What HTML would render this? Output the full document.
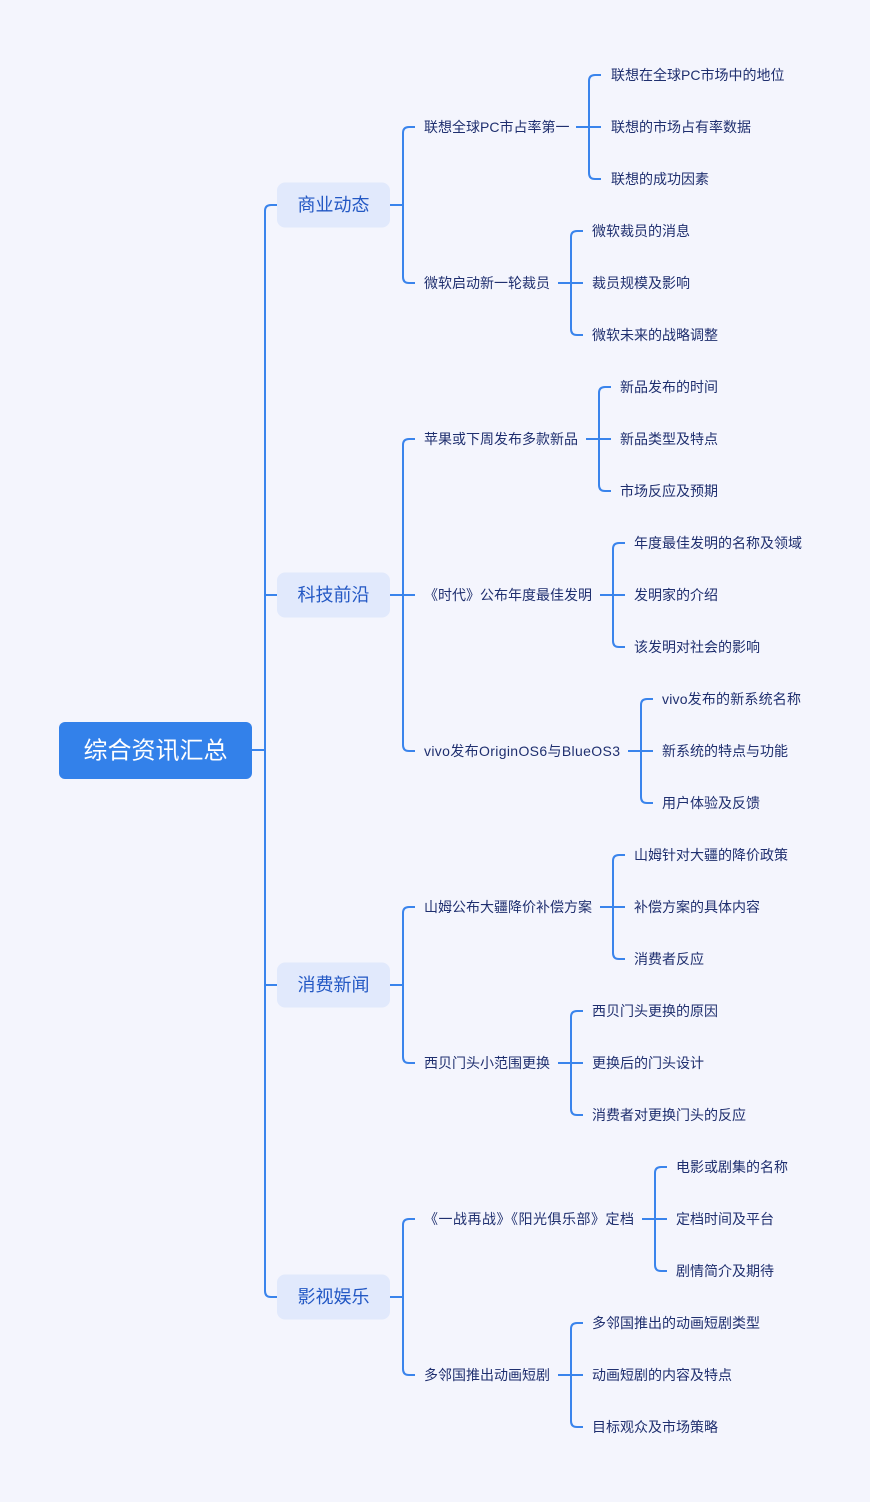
<!DOCTYPE html>
<html>
<head>
<meta charset="utf-8">
<style>
  html,body{margin:0;padding:0;background:#f4f5fd;}
  svg{display:block;}
  text{font-family:"Liberation Sans","Noto Sans CJK SC",sans-serif;}
  .l2{font-size:14px;fill:#1f2f6f;}
  .lf{font-size:14px;fill:#1f2f6f;}
  .l1{font-size:18px;fill:#2358c4;}
  .rt{font-size:24px;fill:#ffffff;}
</style>
</head>
<body>
<svg width="870" height="1502" viewBox="0 0 870 1502" xmlns="http://www.w3.org/2000/svg">
  <rect x="0" y="0" width="870" height="1502" fill="#f4f5fd"/>
  <g fill="none" stroke="#3a84ec" stroke-width="2" stroke-linecap="butt" stroke-linejoin="round">
    <path d="M277 205 H271 Q265 205 265 211 V1291 Q265 1297 271 1297 H277 M265 595 H277 M265 985 H277 M252 750 H265"/>
    <path d="M415 127 H409 Q403 127 403 133 V277 Q403 283 409 283 H415 M390 205 H403"/>
    <path d="M415 439 H409 Q403 439 403 445 V745 Q403 751 409 751 H415 M390 595 H415"/>
    <path d="M415 907 H409 Q403 907 403 913 V1057 Q403 1063 409 1063 H415 M390 985 H403"/>
    <path d="M415 1219 H409 Q403 1219 403 1225 V1369 Q403 1375 409 1375 H415 M390 1297 H403"/>
    <path d="M601 75 H595 Q589 75 589 81 V173 Q589 179 595 179 H601 M576 127 H601"/>
    <path d="M583 231 H577 Q571 231 571 237 V329 Q571 335 577 335 H583 M558 283 H583"/>
    <path d="M611 387 H605 Q599 387 599 393 V485 Q599 491 605 491 H611 M586 439 H611"/>
    <path d="M625 543 H619 Q613 543 613 549 V641 Q613 647 619 647 H625 M600 595 H625"/>
    <path d="M653 699 H647 Q641 699 641 705 V797 Q641 803 647 803 H653 M628 751 H653"/>
    <path d="M625 855 H619 Q613 855 613 861 V953 Q613 959 619 959 H625 M600 907 H625"/>
    <path d="M583 1011 H577 Q571 1011 571 1017 V1109 Q571 1115 577 1115 H583 M558 1063 H583"/>
    <path d="M667 1167 H661 Q655 1167 655 1173 V1265 Q655 1271 661 1271 H667 M642 1219 H667"/>
    <path d="M583 1323 H577 Q571 1323 571 1329 V1421 Q571 1427 577 1427 H583 M558 1375 H583"/>
  </g>

  <rect x="59" y="722" width="193" height="57" rx="6" fill="#3381ea"/>
  <text class="rt" x="155.5" y="751" text-anchor="middle" dominant-baseline="central">综合资讯汇总</text>

  <rect x="277" y="182.5" width="113" height="45" rx="8" fill="#e1e9fc"/>
  <text class="l1" x="333.5" y="205" text-anchor="middle" dominant-baseline="central">商业动态</text>
  <rect x="277" y="572.5" width="113" height="45" rx="8" fill="#e1e9fc"/>
  <text class="l1" x="333.5" y="595" text-anchor="middle" dominant-baseline="central">科技前沿</text>
  <rect x="277" y="962.5" width="113" height="45" rx="8" fill="#e1e9fc"/>
  <text class="l1" x="333.5" y="985" text-anchor="middle" dominant-baseline="central">消费新闻</text>
  <rect x="277" y="1274.5" width="113" height="45" rx="8" fill="#e1e9fc"/>
  <text class="l1" x="333.5" y="1297" text-anchor="middle" dominant-baseline="central">影视娱乐</text>

  <text class="l2" x="424" y="127" dominant-baseline="central">联想全球PC市占率第一</text>
  <text class="l2" x="424" y="283" dominant-baseline="central">微软启动新一轮裁员</text>
  <text class="l2" x="424" y="439" dominant-baseline="central">苹果或下周发布多款新品</text>
  <text class="l2" x="424" y="595" dominant-baseline="central">《时代》公布年度最佳发明</text>
  <text class="l2" x="424" y="751" dominant-baseline="central" textLength="196" lengthAdjust="spacing">vivo发布OriginOS6与BlueOS3</text>
  <text class="l2" x="424" y="907" dominant-baseline="central">山姆公布大疆降价补偿方案</text>
  <text class="l2" x="424" y="1063" dominant-baseline="central">西贝门头小范围更换</text>
  <text class="l2" x="424" y="1219" dominant-baseline="central" textLength="210" lengthAdjust="spacing">《一战再战》《阳光俱乐部》定档</text>
  <text class="l2" x="424" y="1375" dominant-baseline="central">多邻国推出动画短剧</text>

  <text class="lf" x="611" y="75" dominant-baseline="central">联想在全球PC市场中的地位</text>
  <text class="lf" x="611" y="127" dominant-baseline="central">联想的市场占有率数据</text>
  <text class="lf" x="611" y="179" dominant-baseline="central">联想的成功因素</text>

  <text class="lf" x="592" y="231" dominant-baseline="central">微软裁员的消息</text>
  <text class="lf" x="592" y="283" dominant-baseline="central">裁员规模及影响</text>
  <text class="lf" x="592" y="335" dominant-baseline="central">微软未来的战略调整</text>

  <text class="lf" x="620" y="387" dominant-baseline="central">新品发布的时间</text>
  <text class="lf" x="620" y="439" dominant-baseline="central">新品类型及特点</text>
  <text class="lf" x="620" y="491" dominant-baseline="central">市场反应及预期</text>

  <text class="lf" x="634" y="543" dominant-baseline="central">年度最佳发明的名称及领域</text>
  <text class="lf" x="634" y="595" dominant-baseline="central">发明家的介绍</text>
  <text class="lf" x="634" y="647" dominant-baseline="central">该发明对社会的影响</text>

  <text class="lf" x="662" y="699" dominant-baseline="central" textLength="139" lengthAdjust="spacing">vivo发布的新系统名称</text>
  <text class="lf" x="662" y="751" dominant-baseline="central">新系统的特点与功能</text>
  <text class="lf" x="662" y="803" dominant-baseline="central">用户体验及反馈</text>

  <text class="lf" x="634" y="855" dominant-baseline="central">山姆针对大疆的降价政策</text>
  <text class="lf" x="634" y="907" dominant-baseline="central">补偿方案的具体内容</text>
  <text class="lf" x="634" y="959" dominant-baseline="central">消费者反应</text>

  <text class="lf" x="592" y="1011" dominant-baseline="central">西贝门头更换的原因</text>
  <text class="lf" x="592" y="1063" dominant-baseline="central">更换后的门头设计</text>
  <text class="lf" x="592" y="1115" dominant-baseline="central">消费者对更换门头的反应</text>

  <text class="lf" x="676" y="1167" dominant-baseline="central">电影或剧集的名称</text>
  <text class="lf" x="676" y="1219" dominant-baseline="central">定档时间及平台</text>
  <text class="lf" x="676" y="1271" dominant-baseline="central">剧情简介及期待</text>

  <text class="lf" x="592" y="1323" dominant-baseline="central">多邻国推出的动画短剧类型</text>
  <text class="lf" x="592" y="1375" dominant-baseline="central">动画短剧的内容及特点</text>
  <text class="lf" x="592" y="1427" dominant-baseline="central">目标观众及市场策略</text>
</svg>
</body>
</html>
